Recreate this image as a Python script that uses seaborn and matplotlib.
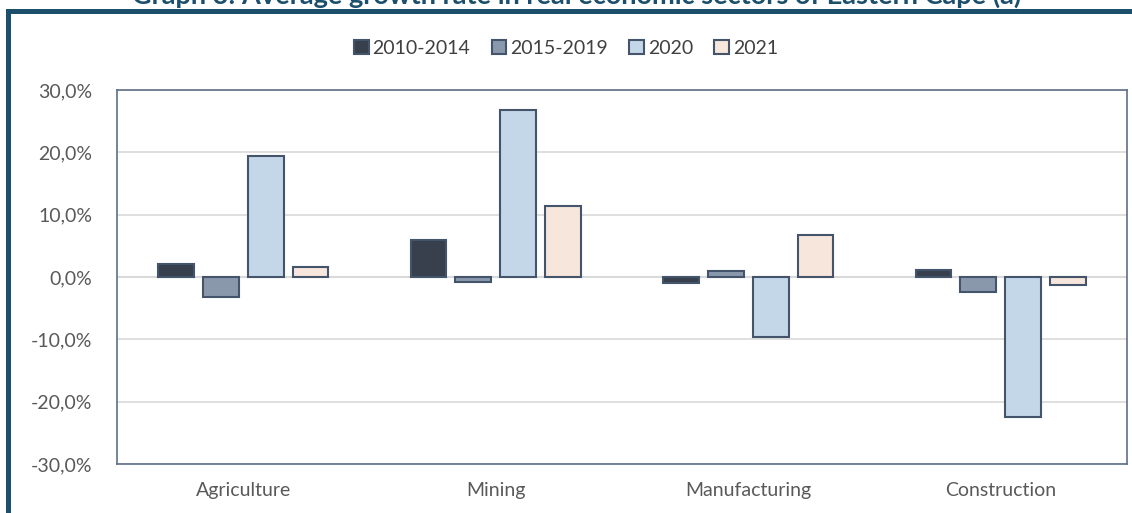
import numpy as np
import pandas as pd
import matplotlib
matplotlib.use("Agg")
import matplotlib.pyplot as plt
import seaborn as sns
from matplotlib.patches import Rectangle
from matplotlib.ticker import FuncFormatter

# ---------------- data ----------------
sectors = ["Agriculture", "Mining", "Manufacturing", "Construction"]
periods = ["2010-2014", "2015-2019", "2020", "2021"]
g_2010_2014 = [2.1, 5.9, -1.0, 1.1]
g_2015_2019 = [-3.2, -0.8, 0.9, -2.4]
g_2020 = [19.4, 26.8, -9.6, -22.4]
g_2021 = [1.6, 11.4, 6.7, -1.3]

colors = ["#333F50", "#8497B0", "#BDD7EE", "#FBE5D6"]
title = "Graph 3: Average growth rate in real economic sectors of Eastern Cape (a)"

df = pd.DataFrame({
    "sector": sectors * 4,
    "period": [p for p in periods for _ in sectors],
    "growth": g_2010_2014 + g_2015_2019 + g_2020 + g_2021,
})

# ---------------- plot ----------------
sns.set_theme(style="white")
plt.rcParams['font.family'] = ['Lato', 'DejaVu Sans']

W, H = 1132, 513
fig = plt.figure(figsize=(W / 100, H / 100), dpi=100)
ax = fig.add_axes([117 / W, 1 - 464 / H, 1010 / W, 374 / H])

sns.barplot(data=df, x="sector", y="growth", hue="period", order=sectors,
            hue_order=periods, palette=colors, width=0.71, gap=0.2,
            edgecolor="#44546A", linewidth=1.5, ax=ax, zorder=3)

ax.set_ylim(-30, 30)
ax.set_yticks(np.arange(-30, 31, 10))
ax.yaxis.set_major_formatter(FuncFormatter(lambda v, p: f"{v:.1f}%".replace(".", ",")))
ax.set_xlim(-0.5, 3.5)
ax.grid(axis="y", color="#D9D9D9", linewidth=1.2, zorder=0)
ax.axhline(0, color="#D9D9D9", linewidth=1.5, zorder=2)
ax.set_xlabel("")
ax.set_ylabel("")
for s in ax.spines.values():
    s.set_color("#5F6F86")
    s.set_linewidth(1.2)
ax.tick_params(axis="both", length=0, labelsize=14, labelcolor="#595959")
ax.tick_params(axis="y", pad=18)
ax.tick_params(axis="x", pad=13)

ax.legend(loc="center", bbox_to_anchor=(0.5, 1 - 48 / H), bbox_transform=fig.transFigure,
          ncol=4, frameon=False, fontsize=14, handlelength=0.75, handleheight=0.75,
          handletextpad=0.2, columnspacing=1.1, labelcolor="#404040")

# outer frame and clipped title
fig.patches.append(Rectangle((7.5 / W, -0.1), 1.2, 1 - 11.5 / H + 0.1,
                             transform=fig.transFigure, fill=False,
                             edgecolor="#1B4F6B", linewidth=3.6))
fig.text(577 / W, 1 - 4 / H, title, ha="center", va="baseline", fontsize=19.5,
         fontweight="bold", color="#1B4F6B")

fig.savefig("out.png", dpi=100)
